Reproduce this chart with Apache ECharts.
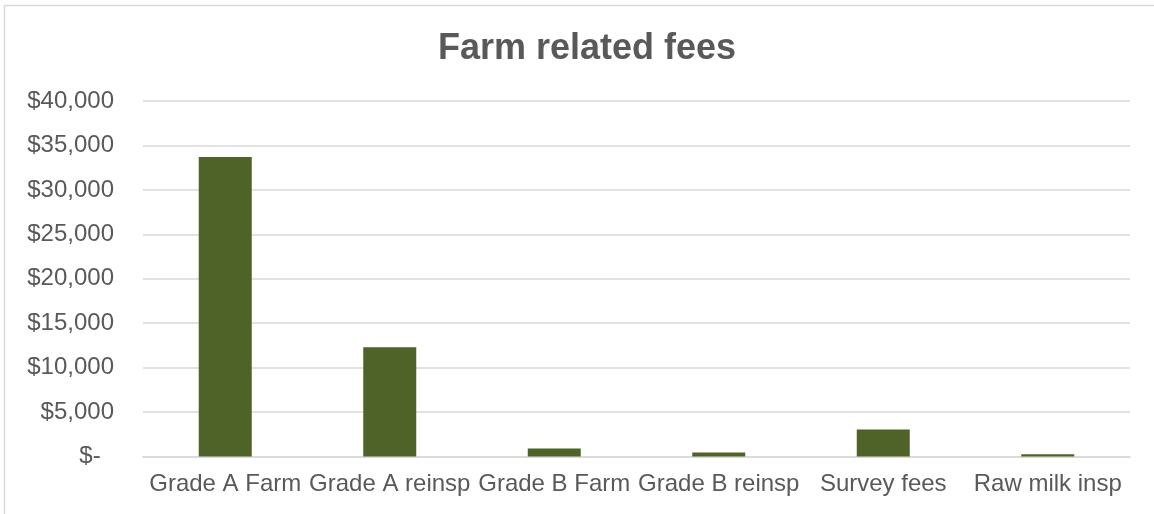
<!DOCTYPE html>
<html>
<head>
<meta charset="utf-8">
<script src="https://cdn.jsdelivr.net/npm/echarts@6/dist/echarts.min.js"></script>
<style>
  html, body { margin: 0; padding: 0; background: #fff; }
  #chart { width: 1154px; height: 514px; }
</style>
</head>
<body>
<div id="chart"></div>
<script>
// data
var categories = ["Grade A Farm", "Grade A reinsp", "Grade B Farm", "Grade B reinsp", "Survey fees", "Raw milk insp"];
var fees = [33700, 12300, 900, 450, 3050, 250];
var yTicks = { min: 0, max: 40000, step: 5000 };

var myChart = echarts.init(document.getElementById("chart"));

var option = {
  backgroundColor: "#fff",
  animation: false,
  // outer chart border
  graphic: [{
    type: "rect",
    shape: { x: 4.5, y: 5.5, width: 1170, height: 530 },
    style: { fill: "none", stroke: "#d9d9d9", lineWidth: 1.5 },
    silent: true
  }],
  title: {
    text: "Farm related fees",
    left: 582,
    textAlign: "center",
    top: 26,
    textStyle: {
      fontFamily: "Liberation Sans, Arial, sans-serif",
      fontSize: 36,
      fontWeight: "bold",
      color: "#595959"
    }
  },
  grid: {
    left: 143,
    right: 24,
    top: 101,
    bottom: 57.5,
    containLabel: false
  },
  xAxis: {
    type: "category",
    data: categories,
    axisLine: { lineStyle: { color: "#d9d9d9", width: 1.5 } },
    axisTick: { show: false },
    axisLabel: {
      interval: 0,
      margin: 16,
      fontFamily: "Liberation Sans, Arial, sans-serif",
      fontSize: 24,
      color: "#595959"
    }
  },
  yAxis: {
    type: "value",
    min: yTicks.min,
    max: yTicks.max,
    interval: yTicks.step,
    axisLine: { show: false },
    axisTick: { show: false },
    splitLine: { lineStyle: { color: "#d9d9d9", width: 1.5 } },
    axisLabel: {
      margin: 29,
      fontFamily: "Liberation Sans, Arial, sans-serif",
      fontSize: 24,
      color: "#595959",
      formatter: function (v) {
        if (v === 0) return "$-  ";
        return "$" + v.toLocaleString("en-US");
      }
    }
  },
  series: [{
    name: "Fees",
    type: "bar",
    data: fees,
    barWidth: 53,
    itemStyle: { color: "#4f6228" }
  }]
};

myChart.setOption(option);
</script>
</body>
</html>
